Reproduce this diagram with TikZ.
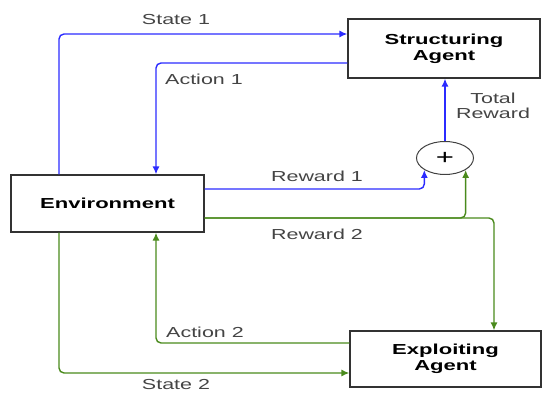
\documentclass[tikz,border=0pt]{standalone}
\usepackage{fontspec}
\setmainfont{Liberation Sans}[FakeStretch=1.48,BoldFeatures={FakeStretch=1.52}]
\usetikzlibrary{shapes.geometric,arrows.meta}
\definecolor{bluelink}{HTML}{2B2BFF}
\definecolor{greenlink}{HTML}{4A8A1C}
\definecolor{labelgray}{HTML}{444444}
\begin{document}
\begin{tikzpicture}[x=1pt, y=-1pt,
        agentbox/.style={draw=black!80, line width=1.2pt, rectangle, inner sep=0pt,
            font=\fontsize{14.5}{16}\selectfont\bfseries, align=center},
        sumnode/.style={draw=black!75, line width=1pt, ellipse, minimum width=57pt,
            minimum height=33pt, inner sep=0pt, font=\fontsize{21}{22}\selectfont},
        flowlabel/.style={text=labelgray, inner sep=0pt, align=center,
            font=\fontsize{14.5}{15}\selectfont},
        bluearrow/.style={draw=bluelink, line width=1.4pt, rounded corners=5pt,
            -{Latex[length=8pt,width=7pt]}},
        greenarrow/.style={draw=greenlink, line width=1.4pt, rounded corners=5pt,
            -{Latex[length=8pt,width=7pt]}}]
            \useasboundingbox (0,0) rectangle (542,393);

            % Boxes
            \node[agentbox, minimum width=193pt, minimum height=57pt] (env) at (107.5,203.5) {Environment};
            \node[agentbox, minimum width=192pt, minimum height=59pt] (sa) at (444,48.5) {Structuring\\Agent};
            \node[agentbox, minimum width=191pt, minimum height=56pt] (ea) at (445.5,359) {Exploiting\\Agent};
            \node[sumnode] (plus) at (445,158) {+};

            % Structuring agent loop
            \draw[bluearrow] ([xshift=-48.5pt]env.north) |- ([yshift=14.5pt]sa.west);
            \draw[bluearrow] ([yshift=-14.5pt]sa.west) -| ([xshift=48.5pt]env.north);
            \draw[bluearrow] ([yshift=14.5pt]env.east) -| (plus.210);
            \draw[bluearrow] (plus.north) -- (sa.south -| plus.north);

            % Exploiting agent loop
            \draw[greenarrow] ([yshift=-14.5pt]env.east) -| (plus.330);
            \draw[greenarrow] ([yshift=-14.5pt]env.east) -| ([xshift=48.5pt]ea.north);
            \draw[greenarrow] ([yshift=16pt]ea.west) -| ([xshift=48.5pt]env.south);
            \draw[greenarrow] ([xshift=-48.5pt]env.south) |- ([yshift=-14pt]ea.west);

            % Labels
            \node[flowlabel] (state1) at (176,20) {State 1};
            \node[flowlabel] (action1) at (204,79) {Action 1};
            \node[flowlabel] (reward1) at (317,176) {Reward 1};
            \node[flowlabel] (total) at (493,106) {Total\\Reward};
            \node[flowlabel] (reward2) at (317,234) {Reward 2};
            \node[flowlabel] (action2) at (205,332) {Action 2};
            \node[flowlabel] (state2) at (176,385) {State 2};
        \end{tikzpicture}
\end{document}
